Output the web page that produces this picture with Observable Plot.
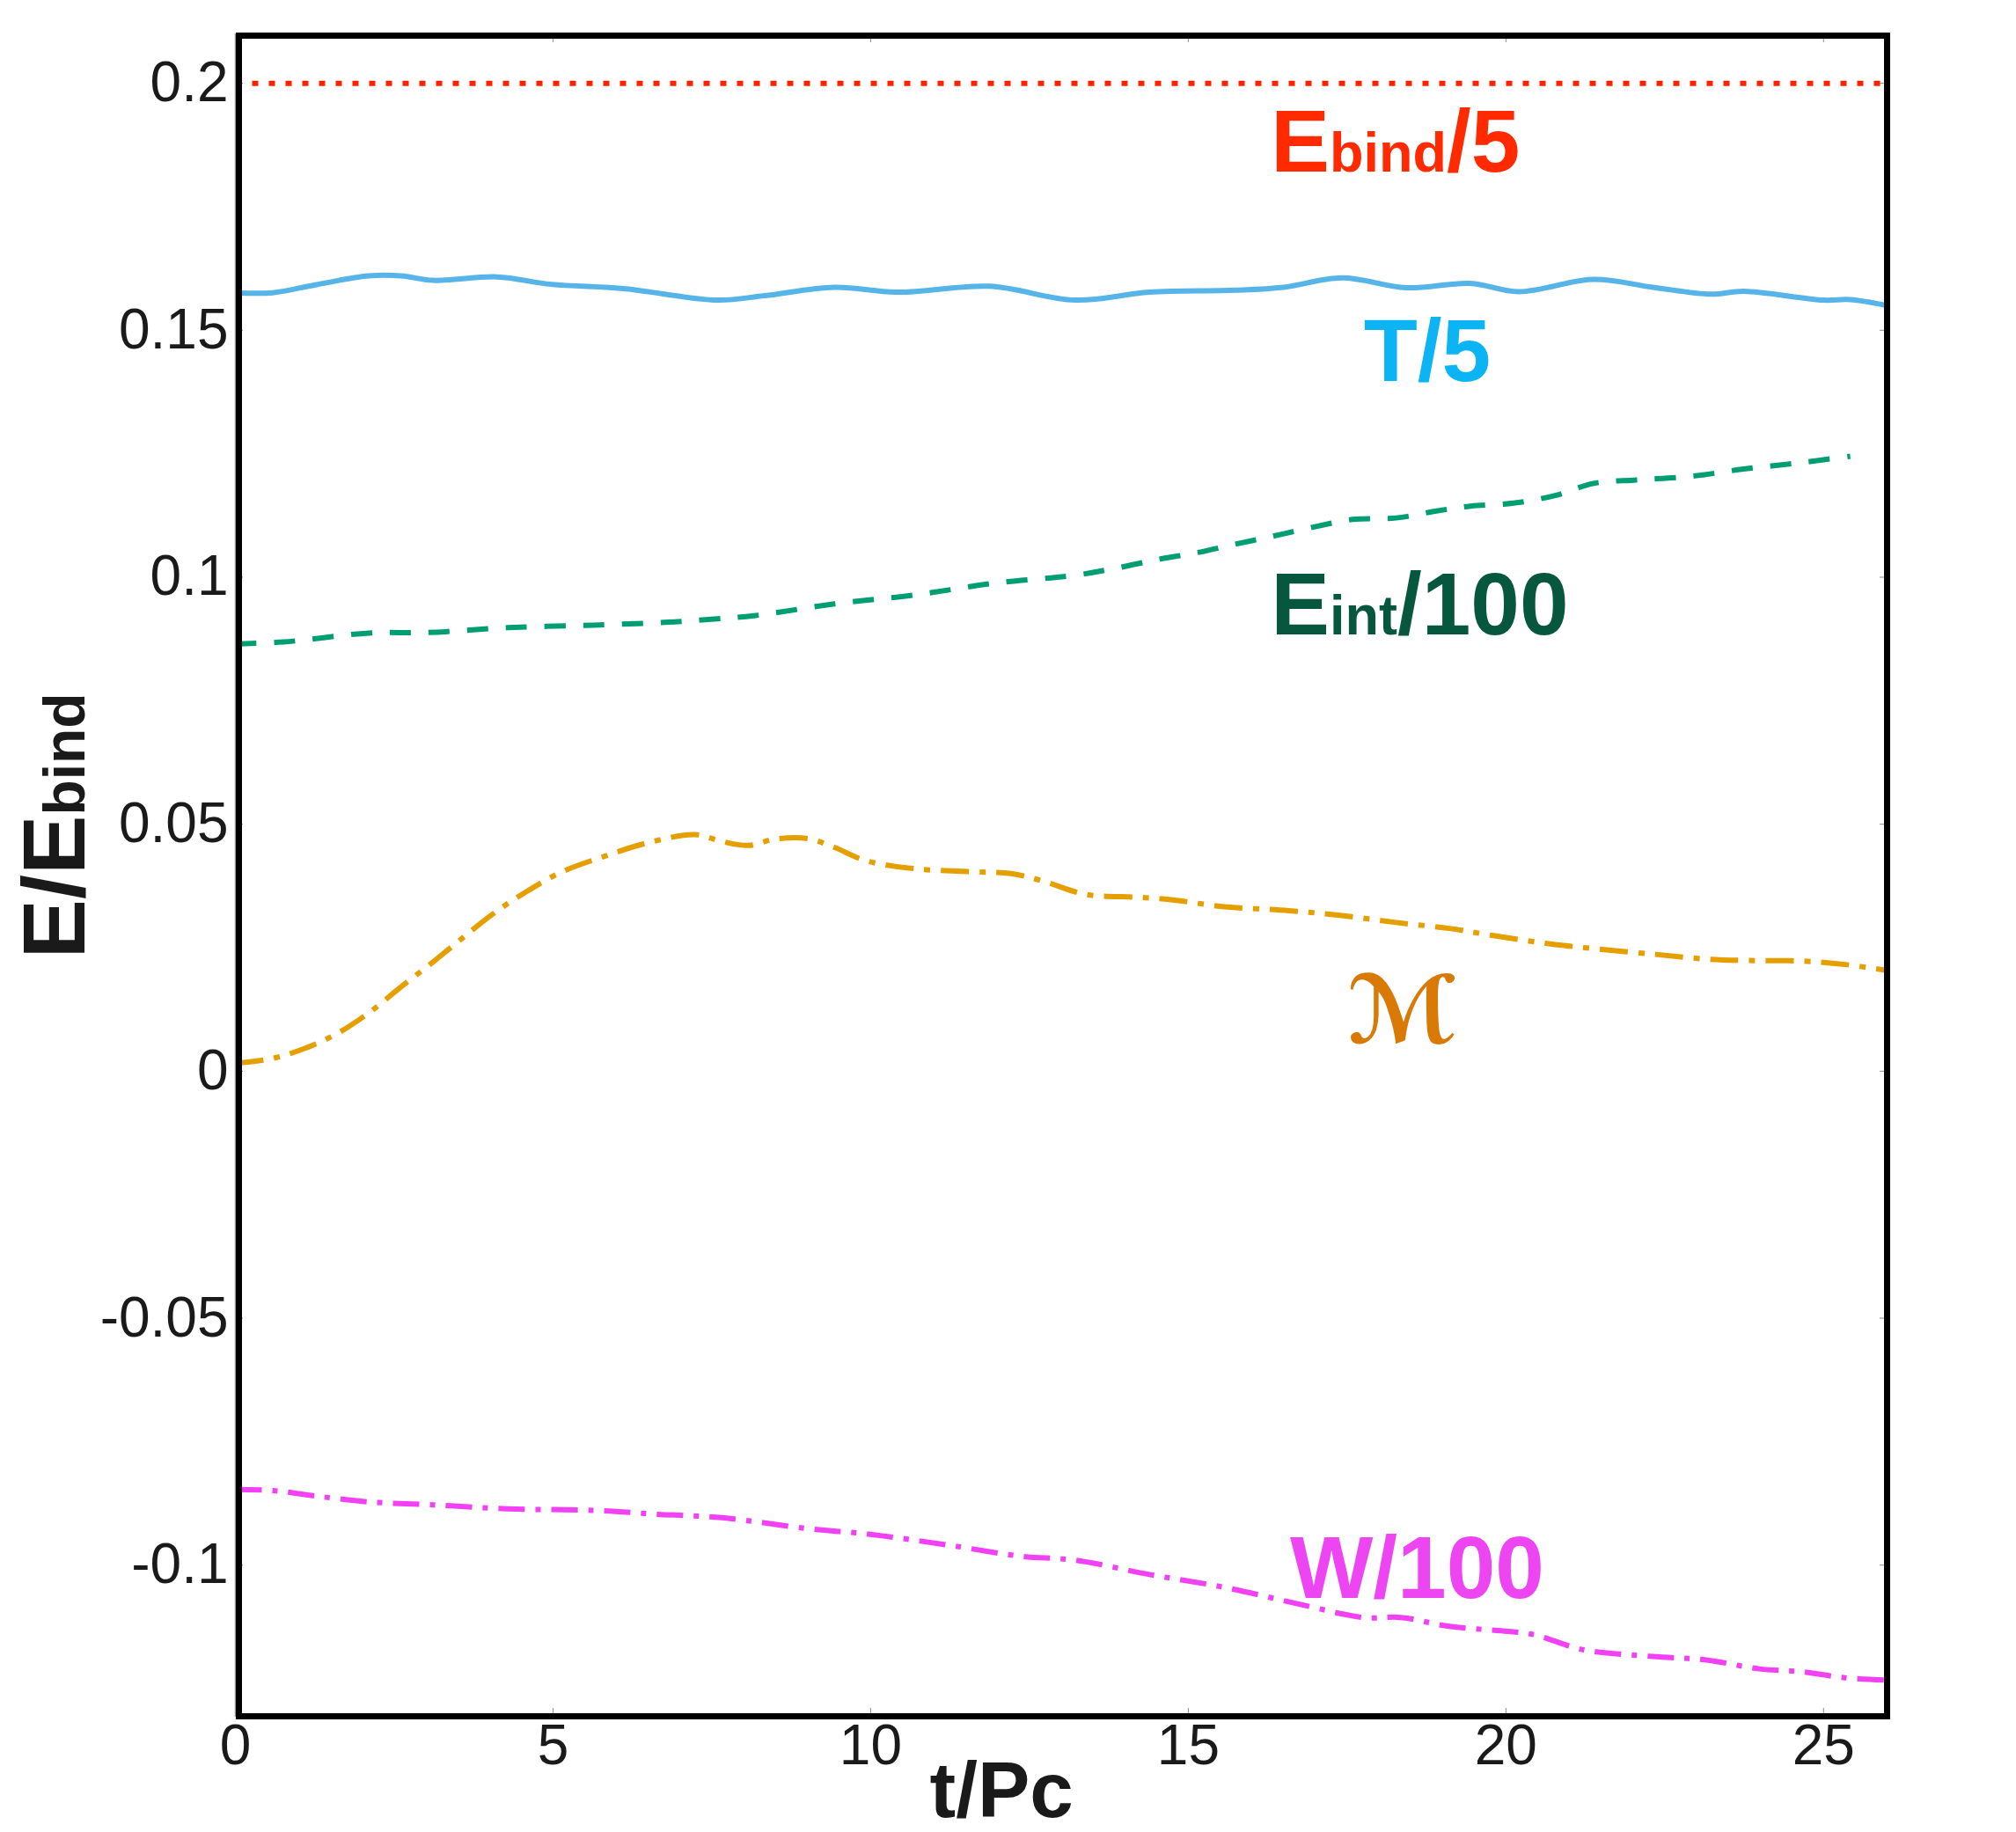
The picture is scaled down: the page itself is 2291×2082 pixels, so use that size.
<!DOCTYPE html>
<html>
<head>
<meta charset="utf-8">
<script src="https://cdn.jsdelivr.net/npm/d3@7"></script>
<script src="https://cdn.jsdelivr.net/npm/@observablehq/plot@0.6"></script>
<style>
  html, body { margin: 0; padding: 0; background: #fff; }
  #chart svg { display: block; }
</style>
</head>
<body>
<div id="chart"></div>
<script>
// Energy budget of the envelope, normalised by the binding energy, versus t/Pc.

// T/5 (kinetic energy)
const tKin = [0, 0.59, 1.26, 2.10, 2.61, 3.11, 4.12, 4.97, 6.14, 7.58, 8.33, 9.43, 10.44, 11.87, 13.22, 14.39, 15.74, 16.5, 17.42, 18.43, 19.44, 20.2, 21.38, 22.31, 23.23, 23.74, 25.0, 25.42, 26.0];
const vKin = [0.1576, 0.1576, 0.1592, 0.1610, 0.1610, 0.1601, 0.1608, 0.1593, 0.1584, 0.1561, 0.1570, 0.1587, 0.1577, 0.1589, 0.1561, 0.1577, 0.1581, 0.1587, 0.1606, 0.1586, 0.1595, 0.1578, 0.1603, 0.1587, 0.1573, 0.1579, 0.1561, 0.1562, 0.1550];

// Eint/100 (internal energy)
const tInt = [0, 0.76, 2.10, 3.03, 4.29, 5.64, 6.82, 7.49, 8.16, 9.43, 10.69, 11.95, 13.22, 13.89, 14.56, 15.15, 15.74, 16.33, 16.92, 17.59, 18.27, 18.86, 19.44, 20.12, 20.79, 21.38, 22.05, 22.9, 23.74, 24.58, 25.42];
const vInt = [0.0865, 0.0869, 0.0887, 0.0888, 0.0898, 0.0903, 0.0909, 0.0915, 0.0922, 0.0946, 0.0964, 0.0988, 0.1004, 0.1019, 0.1037, 0.1050, 0.1067, 0.1083, 0.1100, 0.1117, 0.1120, 0.1133, 0.1144, 0.1150, 0.1166, 0.1190, 0.1197, 0.1204, 0.1219, 0.1231, 0.1245];

// M (magnetic energy)
const tMag = [0, 0.59, 1.09, 1.60, 2.10, 2.61, 3.11, 3.54, 4.04, 4.55, 5.13, 5.81, 6.48, 7.24, 7.66, 8.08, 8.50, 9.01, 9.43, 9.93, 10.69, 11.53, 12.21, 12.71, 13.38, 14.23, 14.73, 15.57, 16.58, 17.42, 18.27, 19.11, 19.78, 20.62, 21.46, 22.39, 23.15, 23.82, 24.66, 25.34, 26.0];
const vMag = [0.0016, 0.0026, 0.0046, 0.0076, 0.0118, 0.0171, 0.0221, 0.0266, 0.0317, 0.0361, 0.0403, 0.0435, 0.0462, 0.0479, 0.0465, 0.0457, 0.0470, 0.0471, 0.0453, 0.0426, 0.0410, 0.0404, 0.0400, 0.0385, 0.0358, 0.0352, 0.0347, 0.0333, 0.0325, 0.0315, 0.0301, 0.0289, 0.0275, 0.0259, 0.0247, 0.0236, 0.0227, 0.0224, 0.0223, 0.0216, 0.0204];

// W/100 (gravitational energy)
const tGrav = [0, 0.59, 1.26, 2.10, 3.11, 4.29, 5.64, 6.65, 7.66, 9.01, 10.02, 11.2, 12.37, 13.22, 14.39, 15.57, 16.75, 17.76, 18.35, 19.11, 20.03, 20.45, 21.21, 22.31, 23.15, 23.99, 24.66, 25.34, 26.0];
const vGrav = [-0.0847, -0.0849, -0.0860, -0.0872, -0.0878, -0.0886, -0.0889, -0.0897, -0.0904, -0.0926, -0.0938, -0.0959, -0.0982, -0.0990, -0.1019, -0.1045, -0.1079, -0.1106, -0.1106, -0.1124, -0.1134, -0.1141, -0.1171, -0.1185, -0.1192, -0.1210, -0.1216, -0.1228, -0.1233];

// Ebind/5 (constant reference level)
const tBind = [0, 26];
const vBind = [0.2, 0.2];

// Axis ticks
const xTicks = [0, 5, 10, 15, 20, 25];
const yTicks = [-0.1, -0.05, 0, 0.05, 0.1, 0.15, 0.2];

// Curve annotations: anchor (t, value) and label pieces (main / subscript / tail)
const annotations = [
  {t: 16.30, v: 0.1821, head: "E", sub: "bind", tail: "/5", color: "#ff2a00", font: "Liberation Sans", size: 100},
  {t: 17.76, v: 0.1397, head: "T/5", sub: "", tail: "", color: "#0db4f4", font: "Liberation Sans", size: 100},
  {t: 16.30, v: 0.0885, head: "E", sub: "int", tail: "/100", color: "#07573f", font: "Liberation Sans", size: 100},
  {t: 17.50, v: 0.0058, head: "\u2133", sub: "", tail: "", color: "#d97a06", font: "DejaVu Sans", size: 106},
  {t: 16.60, v: -0.1067, head: "W/100", sub: "", tail: "", color: "#ee45f2", font: "Liberation Sans", size: 100}
];

const zip = (ts, vs) => ts.map((t, i) => ({t, v: vs[i]}));
const labelText = d => d.head + d.sub + d.tail;

const lineBase = {x: "t", y: "v", strokeLinecap: "butt", strokeLinejoin: "round"};

const chart = Plot.plot({
  width: 2291,
  height: 2082,
  marginLeft: 267,
  marginRight: 147,
  marginTop: 38,
  marginBottom: 132,
  style: {fontFamily: "'Liberation Sans', Arial, sans-serif", fontSize: "64px", color: "#1a1a1a", background: "#fff"},
  x: {domain: [0, 26]},
  y: {domain: [-0.1306, 0.2100]},
  marks: [
    // tick labels
    Plot.axisX({ticks: xTicks, tickSize: 0, tickPadding: 9, tickFormat: d => String(d), label: null, fontSize: 64}),
    Plot.axisY({ticks: yTicks, tickSize: 0, tickPadding: 8, tickFormat: d => String(d), label: null, fontSize: 64}),
    // small inward tick marks on all four sides
    Plot.axisX({anchor: "bottom", ticks: xTicks, tickSize: -9, tickFormat: () => "", label: null, stroke: "#8a8a8a"}),
    Plot.axisX({anchor: "top", ticks: xTicks, tickSize: -9, tickFormat: () => "", label: null, stroke: "#8a8a8a"}),
    Plot.axisY({anchor: "left", ticks: yTicks, tickSize: -9, tickFormat: () => "", label: null, stroke: "#8a8a8a"}),
    Plot.axisY({anchor: "right", ticks: yTicks, tickSize: -9, tickFormat: () => "", label: null, stroke: "#8a8a8a"}),

    // curves
    Plot.line(zip(tBind, vBind), {...lineBase, stroke: "#ff2200", strokeWidth: 6, strokeDasharray: "7,12"}),
    Plot.line(zip(tKin, vKin), {...lineBase, stroke: "#56b4e9", strokeWidth: 6, curve: "catmull-rom"}),
    Plot.line(zip(tInt, vInt), {...lineBase, stroke: "#009e73", strokeWidth: 6, strokeDasharray: "24,20", curve: "catmull-rom"}),
    Plot.line(zip(tMag, vMag), {...lineBase, stroke: "#e69f00", strokeWidth: 6, strokeDasharray: "32,12,7,12", curve: "catmull-rom"}),
    Plot.line(zip(tGrav, vGrav), {...lineBase, stroke: "#f240f4", strokeWidth: 6, strokeDasharray: "30,12,6,12", curve: "catmull-rom"}),

    // curve labels
    ...annotations.map(a => Plot.text([a], {
      x: "t", y: "v", text: labelText,
      fill: a.color, fontSize: a.size, fontWeight: "bold", fontFamily: a.font,
      textAnchor: "start", lineAnchor: "bottom"
    })),

    // axis titles
    Plot.text([{v: 0.0497, s: "E/Ebind"}], {
      y: "v", text: "s", frameAnchor: "left", dx: -172, rotate: -90,
      textAnchor: "middle", lineAnchor: "bottom",
      fontSize: 101, fontWeight: "bold", fill: "#1a1a1a"
    }),
    Plot.text([{t: 12.06, s: "t/Pc"}], {
      x: "t", text: "s", frameAnchor: "bottom", dy: 114,
      textAnchor: "middle", lineAnchor: "bottom",
      fontSize: 89, fontWeight: "bold", fill: "#1a1a1a"
    }),

    // plot frame: thin grey axis lines under a heavy black box
    Plot.frame({stroke: "#9a9a9a", strokeWidth: 1.5}),
    Plot.frame({stroke: "#000", strokeWidth: 7, insetLeft: 4, insetTop: 2})
  ]
});

// Split composite labels into main text + smaller subscript run
const pieces = new Map(annotations.filter(a => a.sub).map(a => [labelText(a), [[a.head, null], [a.sub, 63], [a.tail, null]]]));
pieces.set("E/Ebind", [["E/E", null], ["bind", 66]]);
d3.select(chart).selectAll("text").each(function () {
  const el = d3.select(this);
  if (el.selectAll("tspan").size() > 0) return;
  const parts = pieces.get(el.text());
  if (!parts) return;
  el.text(null);
  for (const [s, size] of parts) {
    if (!s) continue;
    const ts = el.append("tspan").text(s);
    if (size) ts.attr("font-size", size);
  }
});

document.getElementById("chart").appendChild(chart);
</script>
</body>
</html>
